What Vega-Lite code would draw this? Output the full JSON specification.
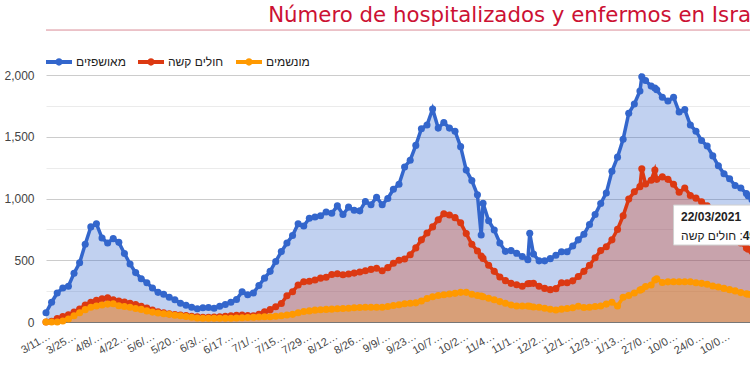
{
  "$schema": "https://vega.github.io/schema/vega-lite/v6.json",
  "width": 706,
  "height": 247,
  "padding": {"left": 3, "top": 5, "right": 0, "bottom": 0},
  "title": {"text": "Número de hospitalizados y enfermos en Israel", "anchor": "end", "frame": "group", "color": "#cc1133", "font": "DejaVu Sans", "fontSize": 21.3, "fontWeight": "normal", "dx": 18, "offset": 3},
  "config": {"view": {"stroke": null}, "font": "Liberation Sans",
    "axisX": {"labelOverlap": false, "labelFlush": false},
    "legend": {"orient": "none", "legendX": 0, "legendY": -26, "direction": "horizontal", "title": null, "columnPadding": 12, "labelOffset": 4, "labelFontSize": 12, "labelColor": "#222222", "labelFont": "Liberation Sans", "symbolType": "M-1,-0.15L1,-0.15L1,0.15L-1,0.15Z M0.28,0A0.28,0.28,0,1,1,-0.28,0A0.28,0.28,0,1,1,0.28,0Z", "symbolSize": 676, "symbolStrokeWidth": 0, "symbolOpacity": 1}},
  "data": {"values": [
    {"date":"2020-03-11","h":75,"s":0,"v":0},
    {"date":"2020-03-14","h":160,"s":5,"v":0},
    {"date":"2020-03-17","h":235,"s":28,"v":0},
    {"date":"2020-03-20","h":275,"s":45,"v":8},
    {"date":"2020-03-23","h":290,"s":58,"v":25},
    {"date":"2020-03-26","h":395,"s":80,"v":50},
    {"date":"2020-03-29","h":480,"s":105,"v":75},
    {"date":"2020-04-01","h":630,"s":138,"v":100},
    {"date":"2020-04-04","h":770,"s":160,"v":120},
    {"date":"2020-04-07","h":795,"s":175,"v":130},
    {"date":"2020-04-10","h":680,"s":188,"v":138},
    {"date":"2020-04-13","h":640,"s":196,"v":145},
    {"date":"2020-04-16","h":675,"s":180,"v":148},
    {"date":"2020-04-19","h":645,"s":170,"v":132},
    {"date":"2020-04-22","h":555,"s":162,"v":125},
    {"date":"2020-04-25","h":470,"s":152,"v":119},
    {"date":"2020-04-28","h":400,"s":142,"v":110},
    {"date":"2020-05-01","h":350,"s":128,"v":102},
    {"date":"2020-05-04","h":318,"s":113,"v":90},
    {"date":"2020-05-07","h":275,"s":97,"v":80},
    {"date":"2020-05-10","h":240,"s":83,"v":73},
    {"date":"2020-05-13","h":225,"s":74,"v":67},
    {"date":"2020-05-16","h":200,"s":66,"v":62},
    {"date":"2020-05-19","h":180,"s":61,"v":55},
    {"date":"2020-05-22","h":152,"s":57,"v":50},
    {"date":"2020-05-25","h":135,"s":52,"v":44},
    {"date":"2020-05-28","h":120,"s":47,"v":38},
    {"date":"2020-05-31","h":108,"s":42,"v":32},
    {"date":"2020-06-03","h":115,"s":38,"v":30},
    {"date":"2020-06-06","h":118,"s":39,"v":30},
    {"date":"2020-06-09","h":112,"s":40,"v":30},
    {"date":"2020-06-12","h":128,"s":42,"v":30},
    {"date":"2020-06-15","h":142,"s":46,"v":30},
    {"date":"2020-06-18","h":160,"s":50,"v":31},
    {"date":"2020-06-21","h":182,"s":54,"v":32},
    {"date":"2020-06-24","h":245,"s":57,"v":34},
    {"date":"2020-06-27","h":220,"s":53,"v":36},
    {"date":"2020-06-30","h":235,"s":50,"v":38},
    {"date":"2020-07-03","h":295,"s":62,"v":40},
    {"date":"2020-07-06","h":355,"s":82,"v":42},
    {"date":"2020-07-09","h":410,"s":100,"v":43},
    {"date":"2020-07-12","h":490,"s":123,"v":46},
    {"date":"2020-07-15","h":570,"s":150,"v":50},
    {"date":"2020-07-18","h":640,"s":212,"v":56},
    {"date":"2020-07-21","h":700,"s":245,"v":62},
    {"date":"2020-07-24","h":795,"s":300,"v":75},
    {"date":"2020-07-27","h":778,"s":326,"v":85},
    {"date":"2020-07-30","h":840,"s":330,"v":90},
    {"date":"2020-08-02","h":850,"s":340,"v":96},
    {"date":"2020-08-05","h":860,"s":355,"v":99},
    {"date":"2020-08-08","h":890,"s":362,"v":102},
    {"date":"2020-08-11","h":880,"s":385,"v":104},
    {"date":"2020-08-14","h":940,"s":390,"v":107},
    {"date":"2020-08-17","h":870,"s":382,"v":110},
    {"date":"2020-08-20","h":930,"s":388,"v":112},
    {"date":"2020-08-23","h":905,"s":396,"v":115},
    {"date":"2020-08-26","h":900,"s":405,"v":118},
    {"date":"2020-08-29","h":975,"s":415,"v":120},
    {"date":"2020-09-01","h":950,"s":426,"v":120},
    {"date":"2020-09-04","h":1010,"s":435,"v":119},
    {"date":"2020-09-07","h":950,"s":415,"v":119},
    {"date":"2020-09-10","h":1000,"s":440,"v":126},
    {"date":"2020-09-13","h":1075,"s":475,"v":133},
    {"date":"2020-09-16","h":1115,"s":500,"v":140},
    {"date":"2020-09-19","h":1255,"s":510,"v":148},
    {"date":"2020-09-22","h":1310,"s":545,"v":152},
    {"date":"2020-09-25","h":1430,"s":600,"v":155},
    {"date":"2020-09-28","h":1565,"s":665,"v":170},
    {"date":"2020-10-01","h":1595,"s":720,"v":190},
    {"date":"2020-10-04","h":1725,"s":770,"v":205},
    {"date":"2020-10-07","h":1570,"s":828,"v":215},
    {"date":"2020-10-10","h":1615,"s":876,"v":221},
    {"date":"2020-10-13","h":1570,"s":866,"v":226},
    {"date":"2020-10-16","h":1545,"s":845,"v":232},
    {"date":"2020-10-19","h":1420,"s":803,"v":240},
    {"date":"2020-10-22","h":1230,"s":716,"v":240},
    {"date":"2020-10-25","h":1145,"s":630,"v":225},
    {"date":"2020-10-28","h":1030,"s":575,"v":215},
    {"date":"2020-10-30","h":704,"s":535,"v":210},
    {"date":"2020-10-31","h":961,"s":515,"v":205},
    {"date":"2020-11-03","h":820,"s":460,"v":192},
    {"date":"2020-11-06","h":745,"s":410,"v":180},
    {"date":"2020-11-09","h":640,"s":365,"v":165},
    {"date":"2020-11-12","h":572,"s":335,"v":152},
    {"date":"2020-11-15","h":578,"s":313,"v":138},
    {"date":"2020-11-18","h":556,"s":302,"v":130},
    {"date":"2020-11-21","h":530,"s":290,"v":130},
    {"date":"2020-11-24","h":505,"s":310,"v":130},
    {"date":"2020-11-25","h":718,"s":312,"v":128},
    {"date":"2020-11-27","h":550,"s":313,"v":122},
    {"date":"2020-11-30","h":495,"s":290,"v":119},
    {"date":"2020-12-03","h":495,"s":272,"v":112},
    {"date":"2020-12-06","h":513,"s":262,"v":103},
    {"date":"2020-12-09","h":540,"s":270,"v":97},
    {"date":"2020-12-12","h":569,"s":318,"v":104},
    {"date":"2020-12-15","h":569,"s":318,"v":109},
    {"date":"2020-12-18","h":615,"s":333,"v":115},
    {"date":"2020-12-21","h":665,"s":368,"v":128},
    {"date":"2020-12-24","h":710,"s":410,"v":118},
    {"date":"2020-12-27","h":790,"s":460,"v":120},
    {"date":"2020-12-30","h":870,"s":520,"v":126},
    {"date":"2021-01-02","h":960,"s":578,"v":130},
    {"date":"2021-01-05","h":1045,"s":610,"v":145},
    {"date":"2021-01-08","h":1220,"s":665,"v":160},
    {"date":"2021-01-11","h":1335,"s":750,"v":130},
    {"date":"2021-01-14","h":1480,"s":860,"v":200},
    {"date":"2021-01-17","h":1690,"s":995,"v":215},
    {"date":"2021-01-20","h":1765,"s":1055,"v":235},
    {"date":"2021-01-23","h":1870,"s":1096,"v":258},
    {"date":"2021-01-24","h":1985,"s":1240,"v":265},
    {"date":"2021-01-26","h":1955,"s":1118,"v":288},
    {"date":"2021-01-29","h":1910,"s":1148,"v":300},
    {"date":"2021-01-31","h":1895,"s":1230,"v":340},
    {"date":"2021-02-01","h":1880,"s":1155,"v":350},
    {"date":"2021-02-04","h":1820,"s":1175,"v":320},
    {"date":"2021-02-07","h":1790,"s":1155,"v":325},
    {"date":"2021-02-10","h":1820,"s":1115,"v":326},
    {"date":"2021-02-13","h":1700,"s":1050,"v":326},
    {"date":"2021-02-16","h":1720,"s":1085,"v":326},
    {"date":"2021-02-19","h":1595,"s":1025,"v":326},
    {"date":"2021-02-22","h":1545,"s":1003,"v":318},
    {"date":"2021-02-25","h":1470,"s":974,"v":313},
    {"date":"2021-02-28","h":1425,"s":940,"v":305},
    {"date":"2021-03-03","h":1345,"s":890,"v":292},
    {"date":"2021-03-06","h":1265,"s":835,"v":283},
    {"date":"2021-03-09","h":1200,"s":775,"v":272},
    {"date":"2021-03-12","h":1160,"s":720,"v":262},
    {"date":"2021-03-15","h":1105,"s":680,"v":252},
    {"date":"2021-03-18","h":1085,"s":640,"v":238},
    {"date":"2021-03-21","h":1040,"s":600,"v":228},
    {"date":"2021-03-22","h":1020,"s":590,"v":225},
    {"date":"2021-03-24","h":990,"s":570,"v":219}
  ]},
  "layer": [
    {
      "mark": {"type": "area", "opacity": 0.3},
      "encoding": {
        "x": {"field": "date", "type": "temporal",
          "scale": {"type": "utc", "domain": [{"year": 2020, "month": 3, "date": 11, "utc": true}, {"year": 2021, "month": 3, "date": 24, "utc": true}]},
          "axis": {"title": null, "grid": false, "ticks": false, "tickSize": 0, "tickCount": 60, "labelPadding": 8, "labelAngle": -30, "labelFontSize": 11, "labelColor": "#444444", "labelOverlap": false, "labelFlush": false, "domain": true, "domainColor": "#777777",
            "values": [
              {"year": 2020, "month": 3, "date": 11, "utc": true}, {"year": 2020, "month": 3, "date": 25, "utc": true},
              {"year": 2020, "month": 4, "date": 8, "utc": true}, {"year": 2020, "month": 4, "date": 22, "utc": true},
              {"year": 2020, "month": 5, "date": 6, "utc": true}, {"year": 2020, "month": 5, "date": 20, "utc": true},
              {"year": 2020, "month": 6, "date": 3, "utc": true}, {"year": 2020, "month": 6, "date": 17, "utc": true},
              {"year": 2020, "month": 7, "date": 1, "utc": true}, {"year": 2020, "month": 7, "date": 15, "utc": true},
              {"year": 2020, "month": 7, "date": 29, "utc": true}, {"year": 2020, "month": 8, "date": 12, "utc": true},
              {"year": 2020, "month": 8, "date": 26, "utc": true}, {"year": 2020, "month": 9, "date": 9, "utc": true},
              {"year": 2020, "month": 9, "date": 23, "utc": true}, {"year": 2020, "month": 10, "date": 7, "utc": true},
              {"year": 2020, "month": 10, "date": 21, "utc": true}, {"year": 2020, "month": 11, "date": 4, "utc": true},
              {"year": 2020, "month": 11, "date": 18, "utc": true}, {"year": 2020, "month": 12, "date": 2, "utc": true},
              {"year": 2020, "month": 12, "date": 16, "utc": true}, {"year": 2020, "month": 12, "date": 30, "utc": true},
              {"year": 2021, "month": 1, "date": 13, "utc": true}, {"year": 2021, "month": 1, "date": 27, "utc": true},
              {"year": 2021, "month": 2, "date": 10, "utc": true}, {"year": 2021, "month": 2, "date": 24, "utc": true},
              {"year": 2021, "month": 3, "date": 10, "utc": true}
            ],
            "labelExpr": "substring(datum.value < utc(2021,0,20) ? utcFormat(datum.value, '%-m/%-d/%Y') : utcFormat(datum.value, '%d/%m/%Y'), 0, 4) + '…'"}},
        "y": {"field": "h", "type": "quantitative", "scale": {"domain": [0, 2000], "nice": false},
          "axis": {"title": null, "domain": false, "ticks": false, "tickSize": 0, "tickCount": 20, "labelPadding": 12, "labelFontSize": 12, "labelColor": "#444444",
            "values": [0, 250, 500, 750, 1000, 1250, 1500, 1750, 2000],
            "labelExpr": "datum.value % 500 === 0 ? format(datum.value, ',') : ''",
            "gridColor": {"condition": {"test": "datum.value % 500 === 0", "value": "#cccccc"}, "value": "#ebebeb"}}},
        "color": {"datum": "מאושפזים",
          "scale": {"domain": ["מאושפזים", "חולים קשה", "מונשמים"], "range": ["#3366cc", "#dc3912", "#ff9900"]},
          "legend": {"encode": {"symbols": {"update": {"fill": {"scale": "color", "field": "value"}, "stroke": {"value": "transparent"}, "opacity": {"value": 1}}}}}}
      }
    },
    {
      "mark": {"type": "area", "opacity": 0.3},
      "encoding": {
        "x": {"field": "date", "type": "temporal"},
        "y": {"field": "s", "type": "quantitative"},
        "color": {"datum": "חולים קשה"}
      }
    },
    {
      "mark": {"type": "area", "opacity": 0.3},
      "encoding": {
        "x": {"field": "date", "type": "temporal"},
        "y": {"field": "v", "type": "quantitative"},
        "color": {"datum": "מונשמים"}
      }
    },
    {
      "mark": {"type": "line", "strokeWidth": 3.5, "point": {"filled": true, "size": 50, "opacity": 1}},
      "encoding": {
        "x": {"field": "date", "type": "temporal"},
        "y": {"field": "h", "type": "quantitative"},
        "color": {"datum": "מאושפזים"}
      }
    },
    {
      "mark": {"type": "line", "strokeWidth": 3.5, "point": {"filled": true, "size": 50, "opacity": 1}},
      "encoding": {
        "x": {"field": "date", "type": "temporal"},
        "y": {"field": "s", "type": "quantitative"},
        "color": {"datum": "חולים קשה"}
      }
    },
    {
      "mark": {"type": "line", "strokeWidth": 3.5, "point": {"filled": true, "size": 50, "opacity": 1}},
      "encoding": {
        "x": {"field": "date", "type": "temporal"},
        "y": {"field": "v", "type": "quantitative"},
        "color": {"datum": "מונשמים"}
      }
    },
    {
      "data": {"values": [{}]},
      "mark": {"type": "rule", "color": "#d98c96", "strokeWidth": 1, "clip": false},
      "encoding": {
        "x": {"datum": {"year": 2020, "month": 3, "date": 11, "utc": true}, "type": "temporal"},
        "x2": {"datum": {"year": 2021, "month": 3, "date": 24, "utc": true}},
        "y": {"datum": 2364, "type": "quantitative"}
      }
    },
    {
      "data": {"values": [{}]},
      "mark": {"type": "rect", "fill": "#ffffff", "stroke": "#cfcfcf", "strokeWidth": 1},
      "encoding": {
        "x": {"datum": {"year": 2021, "month": 2, "date": 10, "utc": true}, "type": "temporal"},
        "x2": {"datum": {"year": 2021, "month": 3, "date": 24, "utc": true}},
        "y": {"datum": 947, "type": "quantitative"},
        "y2": {"datum": 623}
      }
    },
    {
      "data": {"values": [{}]},
      "mark": {"type": "text", "text": "22/03/2021", "align": "left", "baseline": "middle", "fontSize": 12, "fontWeight": "bold", "color": "#222222"},
      "encoding": {
        "x": {"datum": {"year": 2021, "month": 2, "date": 14, "utc": true}, "type": "temporal"},
        "y": {"datum": 850, "type": "quantitative"}
      }
    },
    {
      "data": {"values": [{}]},
      "mark": {"type": "text", "text": "חולים קשה :", "align": "left", "baseline": "middle", "fontSize": 12, "color": "#222222"},
      "encoding": {
        "x": {"datum": {"year": 2021, "month": 2, "date": 14, "utc": true}, "type": "temporal"},
        "y": {"datum": 700, "type": "quantitative"}
      }
    },
    {
      "data": {"values": [{}]},
      "mark": {"type": "text", "text": "499", "align": "left", "baseline": "middle", "fontSize": 12, "fontWeight": "bold", "color": "#222222"},
      "encoding": {
        "x": {"datum": {"year": 2021, "month": 3, "date": 19, "utc": true}, "type": "temporal"},
        "y": {"datum": 700, "type": "quantitative"}
      }
    }
  ]
}
